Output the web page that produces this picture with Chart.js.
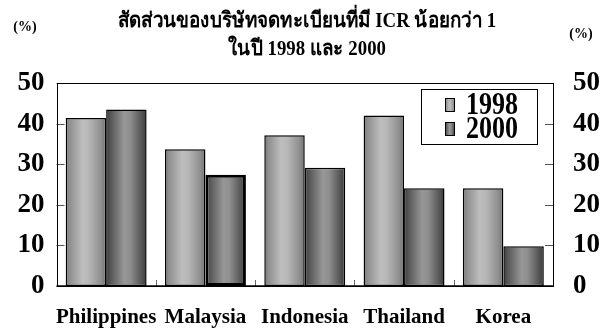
<!DOCTYPE html>
<html>
<head>
<meta charset="utf-8">
<script src="https://cdn.jsdelivr.net/npm/chart.js@4/dist/chart.umd.min.js"></script>
<style>
  html, body { margin: 0; padding: 0; background: #fff; }
  #wrap { width: 610px; height: 331px; }
</style>
</head>
<body>
<div id="wrap"><canvas id="c" width="610" height="331"></canvas></div>
<script>
const categories = ['Philippines', 'Malaysia', 'Indonesia', 'Thailand', 'Korea'];
const seriesLabels = ['1998', '2000'];
const series1998 = [41.4, 33.7, 37.1, 42.0, 24.1];
const series2000 = [43.5, 27.4, 29.1, 24.1, 9.8];
const yTicks = [0, 10, 20, 30, 40, 50];
const titleLines = ['สัดส่วนของบริษัทจดทะเบียนที่มี ICR น้อยกว่า 1', 'ในปี 1998 และ 2000'];
const unitLabel = '(%)';

const SERIF = '"Liberation Serif", "Times New Roman", "Noto Sans", serif';

// cylinder-like shading, light and dark variants
const shades = [
  [[0, '#6c6c6c'], [0.08, '#8c8c8c'], [0.42, '#bebebe'], [0.58, '#b6b6b6'], [0.88, '#8e8e8e'], [1, '#707070']],
  [[0, '#383838'], [0.1, '#555555'], [0.45, '#979797'], [0.6, '#8e8e8e'], [0.9, '#505050'], [1, '#3a3a3a']]
];

function hGradient(ctx, x0, x1, stops) {
  const g = ctx.createLinearGradient(x0, 0, x1, 0);
  stops.forEach(([o, c]) => g.addColorStop(o, c));
  return g;
}

const barShading = {
  id: 'barShading',
  beforeDatasetsDraw(chart) {
    const ctx = chart.ctx;
    const area = chart.chartArea;
    const yScale = chart.scales.y;
    const xScale = chart.scales.x;

    // inward tick marks on both value axes
    ctx.save();
    ctx.strokeStyle = '#555';
    ctx.lineWidth = 1;
    yScale.ticks.forEach(t => {
      const py = Math.round(yScale.getPixelForValue(t.value)) + 0.5;
      ctx.beginPath();
      ctx.moveTo(area.left, py); ctx.lineTo(area.left + 8, py);
      ctx.moveTo(area.right - 8, py); ctx.lineTo(area.right, py);
      ctx.stroke();
    });
    // short category separators along the base
    ctx.strokeStyle = '#666';
    for (let i = 1; i < categories.length; i++) {
      const px = Math.round((xScale.getPixelForValue(i - 1) + xScale.getPixelForValue(i)) / 2) + 0.5;
      ctx.beginPath();
      ctx.moveTo(px, area.bottom); ctx.lineTo(px, area.bottom - 6);
      ctx.stroke();
    }
    ctx.restore();

    chart.data.datasets.forEach((ds, di) => {
      const meta = chart.getDatasetMeta(di);
      meta.data.forEach(el => {
        const p = el.getProps(['x', 'width'], true);
        const g = hGradient(ctx, p.x - p.width / 2, p.x + p.width / 2, shades[di]);
        el.options = Object.assign({}, el.options, { backgroundColor: g });
      });
    });
  },
  afterDatasetsDraw(chart) {
    const ctx = chart.ctx;
    const area = chart.chartArea;

    // plot frame
    ctx.save();
    ctx.strokeStyle = '#000';
    ctx.lineWidth = 1;
    ctx.strokeRect(Math.round(area.left) + 0.5, Math.round(area.top) + 0.5,
                   Math.round(area.right - area.left) - 1, Math.round(area.bottom - area.top));
    ctx.lineWidth = 1.5;
    ctx.beginPath();
    ctx.moveTo(area.left, area.bottom); ctx.lineTo(area.right, area.bottom);
    ctx.stroke();

    // legend box
    const lx = 421, ly = 89, lw = 116, lh = 55;
    ctx.fillStyle = '#fff';
    ctx.fillRect(lx, ly, lw, lh);
    ctx.strokeStyle = '#000';
    ctx.lineWidth = 1;
    ctx.strokeRect(lx + 0.5, ly + 0.5, lw, lh);
    chart.data.datasets.forEach((ds, di) => {
      const sy = 98 + di * 24;
      const sx = 445;
      ctx.fillStyle = hGradient(ctx, sx, sx + 10, shades[di]);
      ctx.fillRect(sx, sy, 10, 14);
      ctx.strokeStyle = '#000';
      ctx.strokeRect(sx + 0.5, sy + 0.5, 9, 13);
      ctx.save();
      ctx.fillStyle = '#000';
      ctx.font = 'bold 26px ' + SERIF;
      ctx.textAlign = 'left';
      ctx.textBaseline = 'alphabetic';
      ctx.translate(466, 114 + di * 24);
      ctx.scale(1, 1.18);
      ctx.fillText(ds.label, 0, 0);
      ctx.restore();
    });
    ctx.restore();
  },
  afterDraw(chart) {
    const ctx = chart.ctx;
    ctx.save();
    ctx.fillStyle = '#000';
    ctx.textAlign = 'center';
    ctx.textBaseline = 'alphabetic';
    ctx.font = 'bold 20px ' + SERIF;
    // title, slightly condensed
    [27, 55].forEach((by, i) => {
      ctx.save();
      ctx.translate(307, by);
      ctx.scale(0.94, 1.05);
      ctx.fillText(titleLines[i], 0, 0);
      ctx.restore();
    });
    ctx.font = 'bold 14px ' + SERIF;
    ctx.fillText(unitLabel, 25, 31);
    ctx.fillText(unitLabel, 581, 38);
    ctx.restore();
  }
};

const tickFont = { family: SERIF, size: 27, weight: 'bold' };

new Chart(document.getElementById('c'), {
  type: 'bar',
  data: {
    labels: categories,
    datasets: [
      { label: seriesLabels[0], data: series1998, borderColor: '#000', borderWidth: 1.5, backgroundColor: '#aaa' },
      { label: seriesLabels[1], data: series2000, borderColor: '#000', borderWidth: [1.5, 3, 1.5, 1.5, 1.5], backgroundColor: '#666' }
    ]
  },
  options: {
    responsive: false,
    animation: false,
    devicePixelRatio: 1,
    layout: { padding: { left: 17, right: 10, top: 83, bottom: 0 } },
    datasets: { bar: { categoryPercentage: 0.815, barPercentage: 1.0, borderSkipped: false } },
    plugins: { legend: { display: false }, title: { display: false }, tooltip: { enabled: false } },
    scales: {
      x: {
        grid: { display: false, drawTicks: false },
        border: { display: false },
        ticks: { color: '#000', font: { family: SERIF, size: 21, weight: 'bold' }, padding: 19, maxRotation: 0, autoSkip: false },
        afterFit: s => { s.height = 45; }
      },
      y: {
        position: 'left',
        min: 0, max: 50,
        afterBuildTicks: s => { s.ticks = yTicks.map(v => ({ value: v })); },
        grid: { display: false, drawTicks: false },
        border: { display: false },
        ticks: { color: '#000', font: tickFont, padding: 12 },
        afterFit: s => { s.width = 39.5; }
      },
      y2: {
        position: 'right',
        min: 0, max: 50,
        afterBuildTicks: s => { s.ticks = yTicks.map(v => ({ value: v })); },
        grid: { display: false, drawTicks: false },
        border: { display: false },
        ticks: { color: '#000', font: tickFont, padding: 20 },
        afterFit: s => { s.width = 47; }
      }
    }
  },
  plugins: [barShading]
});
</script>
</body>
</html>
